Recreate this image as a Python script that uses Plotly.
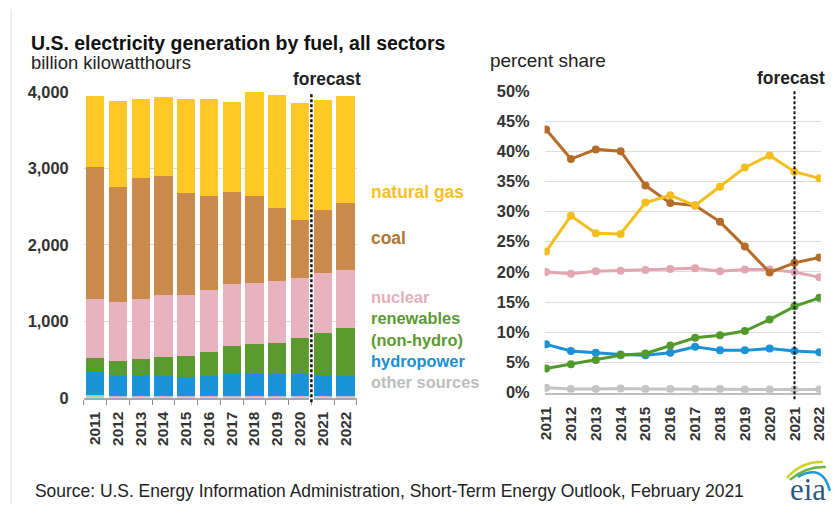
import plotly.graph_objects as go

# ---- data: U.S. electricity generation by fuel (billion kWh) ----
years = [2011, 2012, 2013, 2014, 2015, 2016, 2017, 2018, 2019, 2020, 2021, 2022]
year_labels = [str(y) for y in years]

gen_other = [32, 26, 26, 27, 26, 26, 25, 25, 24, 22, 22, 22]
gen_hydro = [315, 273, 266, 255, 245, 264, 296, 288, 285, 283, 270, 266]
gen_renew = [170, 187, 216, 256, 276, 313, 356, 390, 403, 472, 558, 627]
gen_nuclear = [781, 768, 790, 803, 794, 803, 816, 799, 816, 794, 782, 752]
gen_coal = [1713, 1497, 1570, 1562, 1337, 1237, 1193, 1141, 955, 759, 829, 881]
gen_gas = [934, 1133, 1034, 1033, 1232, 1267, 1185, 1354, 1475, 1520, 1432, 1397]

# ---- data: percent share of generation ----
share_gas = [23.4, 29.3, 26.4, 26.3, 31.5, 32.7, 31.0, 34.1, 37.3, 39.3, 36.6, 35.5]
share_coal = [43.6, 38.7, 40.3, 40.0, 34.3, 31.4, 31.0, 28.3, 24.2, 19.9, 21.5, 22.4]
share_nuclear = [20.0, 19.7, 20.1, 20.2, 20.3, 20.5, 20.6, 20.1, 20.4, 20.4, 20.0, 19.1]
share_renew = [4.0, 4.7, 5.4, 6.2, 6.5, 7.8, 9.1, 9.5, 10.2, 12.1, 14.3, 15.7]
share_hydro = [8.0, 6.9, 6.6, 6.3, 6.2, 6.6, 7.6, 7.0, 7.0, 7.3, 6.9, 6.7]
share_other = [0.8, 0.6, 0.6, 0.7, 0.6, 0.6, 0.6, 0.6, 0.5, 0.5, 0.5, 0.5]

forecast_start = 2021

W, H = 840, 516
FONT = "Liberation Sans"
# layout helpers take screen pixels; the page body adds an 8px margin and the
# whole page (figure + margins) is fitted back into the 840x516 frame
PAD = 8
KX, KY = (W + 2 * PAD) / W, (H + 2 * PAD) / H
FS = (KX + KY) / 2  # font compensation for that fit


def fx(x):
    return (x * KX - PAD) / W


def fy(y):
    return 1 - (y * KY - PAD) / H


def fs(size):
    return round(size * FS, 2)


bar_colors = {
    "other": "#bfbfbf",
    "hydro": "#1b93d8",
    "renew": "#5b9a2e",
    "nuclear": "#e8b3bf",
    "coal": "#c98a4c",
    "gas": "#fec927",
}
line_colors = {
    "other": "#c4c4c4",
    "hydro": "#1b91d6",
    "renew": "#539a2d",
    "nuclear": "#e2a6b1",
    "coal": "#b56c28",
    "gas": "#f6be1d",
}

fig = go.Figure()

# stacked bars, bottom to top
for key, vals in [("other", gen_other), ("hydro", gen_hydro), ("renew", gen_renew),
                  ("nuclear", gen_nuclear), ("coal", gen_coal), ("gas", gen_gas)]:
    fig.add_trace(go.Bar(x=years, y=vals, marker=dict(color=bar_colors[key], line=dict(width=0)),
                         xaxis="x", yaxis="y", showlegend=False, hoverinfo="skip"))

# share lines
for key, vals in [("other", share_other), ("hydro", share_hydro), ("renew", share_renew),
                  ("nuclear", share_nuclear), ("coal", share_coal), ("gas", share_gas)]:
    fig.add_trace(go.Scatter(x=years, y=vals, mode="lines+markers",
                             line=dict(color=line_colors[key], width=3),
                             marker=dict(color=line_colors[key], size=8),
                             xaxis="x2", yaxis="y2", showlegend=False, hoverinfo="skip"))

tick_font = dict(family=FONT, size=fs(16), color="#333333", weight="bold")
year_font = dict(family=FONT, size=fs(15), color="#333333", weight="bold")

fig.update_layout(
    width=W, height=H,
    margin=dict(l=0, r=0, t=0, b=0),
    paper_bgcolor="white", plot_bgcolor="white",
    barmode="stack", bargap=0.2,
    xaxis=dict(domain=[fx(83.5), fx(356.5)], range=[2010.5, 2022.5],
               tickmode="array", tickvals=years, ticktext=year_labels, tickangle=-90,
               tickfont=year_font, ticks="", ticklabelstandoff=6,
               showline=True, linecolor="#a6a6a6", linewidth=1.5, showgrid=False, zeroline=False,
               minor=dict(tickmode="array", tickvals=[y - 0.5 for y in years] + [years[-1] + 0.5],
                          ticks="outside", ticklen=5, tickcolor="#8c8c8c", tickwidth=1, showgrid=False),
               anchor="y"),
    yaxis=dict(domain=[fy(398.5), fy(91)], range=[0, 4000], tickvals=[0, 1000, 2000, 3000, 4000],
               tickformat=",", tickfont=tick_font, showgrid=True, gridcolor="#dcdcdc", gridwidth=1,
               zeroline=False, showline=False, ticks="", ticklabelstandoff=14, anchor="x"),
    xaxis2=dict(domain=[fx(544), fx(820)], range=[2010.94, 2022.06],
                tickmode="array", tickvals=years, ticktext=year_labels, tickangle=-90,
                tickfont=year_font, ticks="", ticklabelstandoff=6,
                showline=True, linecolor="#bfbfbf", linewidth=2, showgrid=False, zeroline=False,
                anchor="y2"),
    yaxis2=dict(domain=[fy(393.3), fy(90)], range=[0, 50], dtick=5, ticksuffix="%",
                tickfont=tick_font, showgrid=True, gridcolor="#dcdcdc", gridwidth=1,
                zeroline=False, showline=False, ticks="", ticklabelstandoff=14, anchor="x2"),
)

shapes = []
# thin frame line on the left edge
shapes.append(dict(type="line", xref="paper", yref="paper", x0=fx(11), x1=fx(11), y0=fy(8), y1=fy(506),
                   line=dict(color="#dedede", width=1)))
# forecast divider in the bar chart (between 2020 and 2021)
shapes.append(dict(type="line", xref="x", yref="paper", x0=forecast_start - 0.5, x1=forecast_start - 0.5,
                   y0=fy(403), y1=fy(93), line=dict(color="white", width=5), layer="above"))
shapes.append(dict(type="line", xref="x", yref="paper", x0=forecast_start - 0.5, x1=forecast_start - 0.5,
                   y0=fy(403), y1=fy(93), line=dict(color="#111111", width=2.5, dash="3px,2px"), layer="above"))
# forecast divider in the share chart
shapes.append(dict(type="line", xref="x2", yref="paper", x0=forecast_start, x1=forecast_start,
                   y0=fy(400), y1=fy(90), line=dict(color="#111111", width=2, dash="3px,2px"), layer="above"))


# eia logo swooshes
def path_px(pts):
    (x0, y0), (cx, cy), (x1, y1) = pts
    return f"M {fx(x0)},{fy(y0)} Q {fx(cx)},{fy(cy)} {fx(x1)},{fy(y1)}"


shapes.append(dict(type="path", xref="paper", yref="paper",
                   path=path_px([(786, 479), (801, 462), (822, 463)]),
                   line=dict(color="#c9d32b", width=2.5)))
shapes.append(dict(type="path", xref="paper", yref="paper",
                   path=path_px([(789, 481), (805, 467), (825, 468)]),
                   line=dict(color="#6cb33f", width=2.5)))
shapes.append(dict(type="path", xref="paper", yref="paper",
                   path=path_px([(797, 478), (822, 464), (829, 492)]),
                   line=dict(color="#1c9ad6", width=2.5)))
fig.update_layout(shapes=shapes)

ann = []


def text(x, y, s, size, color="#1a1a1a", bold=False, xanchor="left", family=FONT):
    ann.append(dict(x=fx(x), y=fy(y), xref="paper", yref="paper", text=s, showarrow=False,
                    xanchor=xanchor, yanchor="middle", align="left", borderpad=0,
                    font=dict(family=family, size=fs(size), color=color,
                              weight="bold" if bold else "normal")))


text(30, 42, "U.S. electricity generation by fuel, all sectors", 19, "#111111", bold=True)
text(30, 62, "billion kilowatthours", 18, "#222222")
text(488, 60, "percent share", 18.5, "#222222")
text(327, 78, "forecast", 17, "#222222", bold=True, xanchor="center")
text(790, 77, "forecast", 17, "#222222", bold=True, xanchor="center")

text(370, 192, "natural gas", 17, "#f5c11f", bold=True)
text(370, 238, "coal", 17, "#b27435", bold=True)

# stacked label block for the lower series
lower_labels = [("nuclear", "#e4afbb"), ("renewables", "#5b9a2e"), ("(non-hydro)", "#5b9a2e"),
                ("hydropower", "#1b8fd4"), ("other sources", "#bdbdbd")]
block = "<br>".join(f"<span style='color:{c}'>{s}</span>" for s, c in lower_labels)
text(370, 340, block, 16, "#5b9a2e", bold=True)

text(34, 492, "Source: U.S. Energy Information Administration, Short-Term Energy Outlook, February 2021",
     17, "#222222")
text(807, 491, "eia", 30, "#2d5a80", xanchor="center", family="Liberation Serif")

fig.update_layout(annotations=ann)

fig.write_html("out.html")
